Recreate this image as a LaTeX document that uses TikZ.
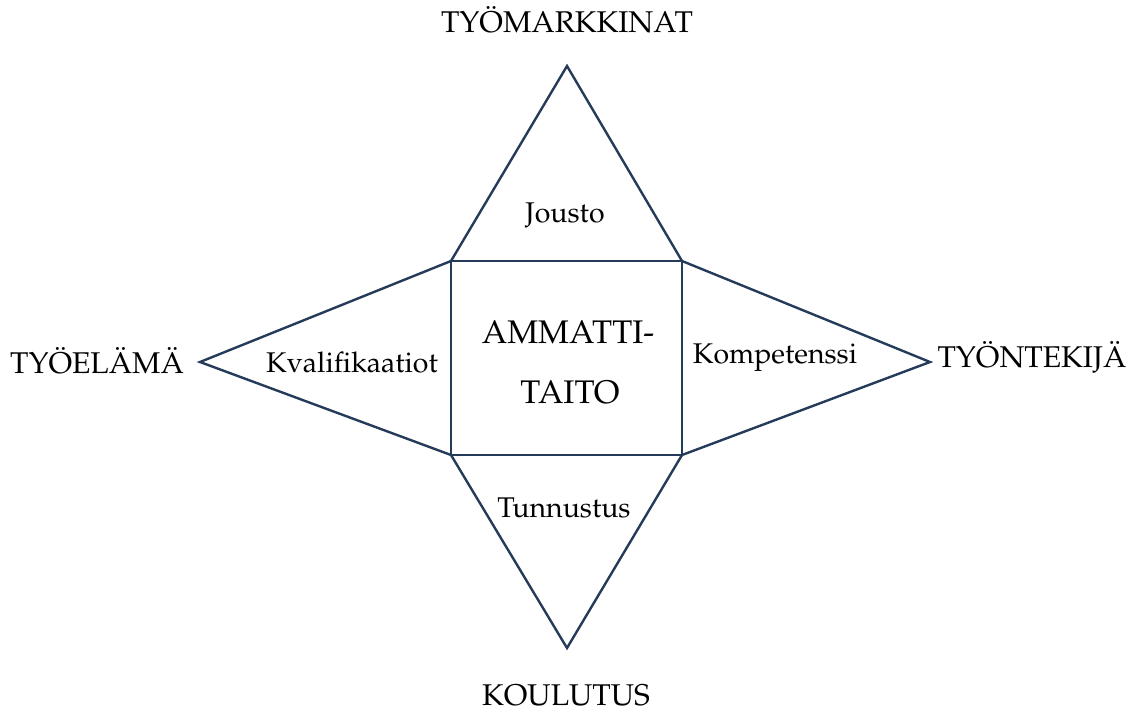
\documentclass[tikz,border=0pt]{standalone}
\usepackage[T1]{fontenc}
\usepackage{mathpazo}
\begin{document}
\begin{tikzpicture}[x=1pt,y=-1pt,
  edge/.style={draw=lineblue,line width=2.4pt,line join=miter},
  outer/.style={anchor=base,inner sep=0pt,font=\fontsize{30}{34}\selectfont},
  inner/.style={anchor=base,inner sep=0pt,font=\fontsize{28.5}{32}\selectfont},
  core/.style={anchor=base,inner sep=0pt,font=\fontsize{32.7}{38}\selectfont}]
\definecolor{lineblue}{HTML}{243B5A}
\useasboundingbox (0,0) rectangle (1132,712);
% corners of the central square
\coordinate (nw) at (451,261);
\coordinate (ne) at (682,261);
\coordinate (se) at (682,455);
\coordinate (sw) at (451,455);
% apexes of the four triangles
\coordinate (top) at (567,66);
\coordinate (left) at (200,362);
\coordinate (right) at (930,362);
\coordinate (bottom) at (567,648);
% triangles and square
\draw[edge] (nw) -- (top) -- (ne);
\draw[edge] (nw) -- (left) -- (sw);
\draw[edge] (ne) -- (right) -- (se);
\draw[edge] (sw) -- (bottom) -- (se);
\draw[edge] (nw) -- (ne) -- (se) -- (sw) -- cycle;
% outer labels
\node[outer] (tm) at (567,32) {TYÖMARKKINAT};
\node[outer] (te) at (97,373) {TYÖELÄMÄ};
\node[outer] (tt) at (1032,367) {TYÖNTEKIJÄ};
\node[outer] (ko) at (566,705) {KOULUTUS};
% triangle labels
\node[inner] (jo) at (565,222) {Jousto};
\node[inner] (kv) at (352,372) {Kvalifikaatiot};
\node[inner] (kp) at (775,363) {Kompetenssi};
\node[inner] (tu) at (564,517) {Tunnustus};
% centre label
\node[core] (am) at (568,343) {AMMATTI-};
\node[core] (ta) at (570,403) {TAITO};
\end{tikzpicture}
\end{document}
